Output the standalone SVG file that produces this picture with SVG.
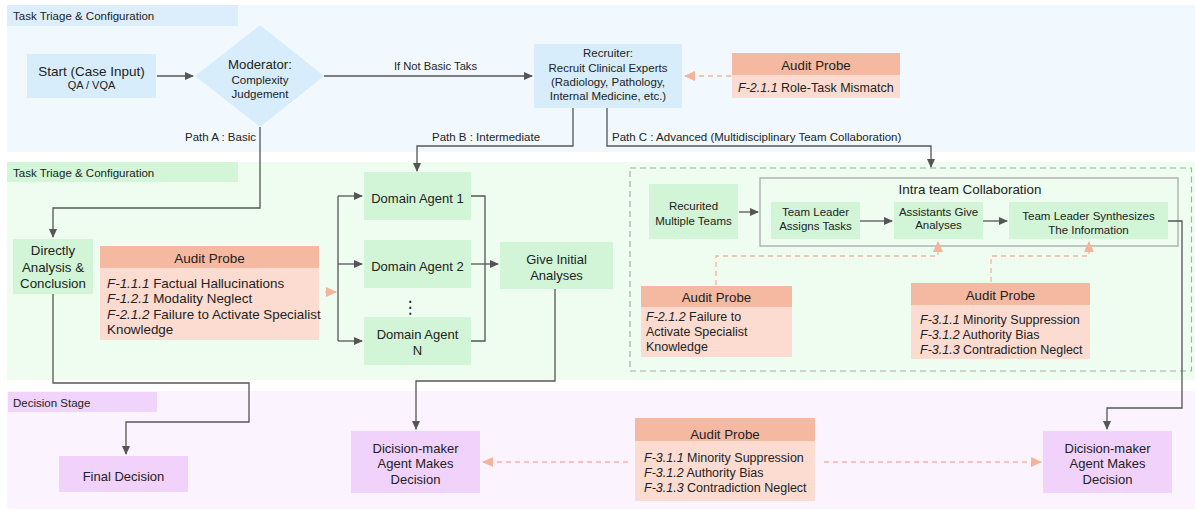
<svg xmlns="http://www.w3.org/2000/svg" width="1195" height="510" viewBox="0 0 1195 510">
<defs>
<marker id="ah" markerUnits="userSpaceOnUse" markerWidth="9" markerHeight="8" refX="8" refY="4" orient="auto"><path d="M0,0 L9,4 L0,8 z" fill="#555"/></marker>
<marker id="ahs" markerUnits="userSpaceOnUse" markerWidth="11" markerHeight="10" refX="10" refY="5" orient="auto"><path d="M0,0 L11,5 L0,10 z" fill="#f4b49c"/></marker>
<style>
text{font-family:"Liberation Sans",Arial,sans-serif;fill:#222;}
.c{text-anchor:middle;}
.band1{fill:#f1f9fe;}
.lab1{fill:#dceefc;}
.n1{fill:#d7edfc;}
.band2{fill:#effdf0;}
.lab2{fill:#d3f6d8;}
.n2{fill:#d2f5d7;}
.band3{fill:#fbf4fe;}
.lab3{fill:#f1d4fb;}
.n3{fill:#f1d2fb;}
.ph{fill:#f5b8a1;}
.pb{fill:#fcdcd1;}
.ln{fill:none;stroke:#555;stroke-width:1.3;}
.ds{fill:none;stroke:#f4b49c;stroke-width:1.3;stroke-dasharray:5,4;}
.t13{font-size:13px;}
.t115{font-size:11.5px;}
.t125{font-size:12.5px;}
.pt{font-size:13.3px;}
i,.it{font-style:italic;}
</style>
</defs>
<g id="bands">
<rect class="band1" x="7" y="5" width="1188" height="147"/>
<rect class="lab1" x="7" y="5" width="231" height="21"/>
<text x="13" y="20" class="t115">Task Triage &amp; Configuration</text>
<rect class="band2" x="7" y="162" width="1188" height="218"/>
<rect class="lab2" x="7" y="162" width="231" height="20"/>
<text x="13" y="176.5" class="t115">Task Triage &amp; Configuration</text>
<rect class="band3" x="7" y="391" width="1188" height="118"/>
<rect class="lab3" x="8" y="392" width="149" height="20"/>
<text x="13" y="406.5" class="t115">Decision Stage</text>
</g>
<g id="containers">
<rect x="630" y="168" width="561.5" height="203" fill="none" stroke="#aaa" stroke-width="1.2" stroke-dasharray="6,4"/>
<rect x="760" y="178" width="418" height="68" fill="none" stroke="#aaa" stroke-width="1.3"/>
<text x="970" y="194" class="c t13" style="font-size:13.4px">Intra team Collaboration</text>
</g>
<g id="connectors">
<path class="ln" d="M157,76 H193" marker-end="url(#ah)"/>
<path class="ln" d="M324,76 H532" marker-end="url(#ah)"/>
<text x="435.5" y="69.5" class="c" style="font-size:11.2px">If Not Basic Taks</text>
<path class="ln" d="M260,127 V208 H53 V237" marker-end="url(#ah)"/>
<text x="256" y="141" class="t115" text-anchor="end">Path A : Basic</text>
<path class="ln" d="M573,108 V146 H417 V171" marker-end="url(#ah)"/>
<text x="432" y="141" class="t115">Path B : Intermediate</text>
<path class="ln" d="M607,108 V146 H931 V167" marker-end="url(#ah)"/>
<text x="612" y="141" class="t115">Path C : Advanced (Multidisciplinary Team Collaboration)</text>
<path class="ds" d="M731,76 H685" marker-end="url(#ahs)"/>
<path class="ln" d="M338,196 V341"/>
<path class="ln" d="M338,196 H362" marker-end="url(#ah)"/>
<path class="ln" d="M338,264 H362" marker-end="url(#ah)"/>
<path class="ln" d="M338,341 H362" marker-end="url(#ah)"/>
<path class="ln" d="M471,196 H485 V341 H471"/>
<path class="ln" d="M471,264 H498" marker-end="url(#ah)"/>
<path class="ds" d="M325,292 H336" style="stroke-dasharray:none" marker-end="url(#ahs)"/>
<path class="ln" d="M53,294 V383 H249 V422 H126 V454" marker-end="url(#ah)"/>
<path class="ln" d="M555,289 V381 H416 V429" marker-end="url(#ah)"/>
<path class="ln" d="M739,212 H758" marker-end="url(#ah)"/>
<path class="ln" d="M860,221 H892" marker-end="url(#ah)"/>
<path class="ln" d="M983,221 H1007" marker-end="url(#ah)"/>
<path class="ln" d="M1168,221 H1182 V408 H1107 V429" marker-end="url(#ah)"/>
<path class="ds" d="M716,285 V256 H938 V242" marker-end="url(#ahs)"/>
<path class="ds" d="M991,282 V256 H1089 V242" marker-end="url(#ahs)"/>
<path class="ds" d="M628,462 H483" marker-end="url(#ahs)"/>
<path class="ds" d="M824,462 H1041" marker-end="url(#ahs)"/>
</g>
<g id="start">
<rect class="n1" x="27" y="54" width="129" height="44"/>
<text x="91.5" y="75.5" class="c" style="font-size:13.5px">Start (Case Input)</text>
<text x="91.5" y="89" class="c" style="font-size:11px">QA / VQA</text>
</g>
<g id="moderator">
<path class="n1" d="M260,25 L324,76 L260,127 L195,76 Z"/>
<text x="260" y="69" class="c" style="font-size:13.2px">Moderator:</text>
<text x="260" y="83.5" class="c t115">Complexity</text>
<text x="260" y="97.5" class="c t115">Judgement</text>
</g>
<g id="recruiter">
<rect class="n1" x="534" y="44" width="148" height="64"/>
<text x="608" y="57" class="c t115">Recruiter:</text>
<text x="608" y="71.5" class="c t115">Recruit Clinical Experts</text>
<text x="608" y="85.5" class="c t115">(Radiology, Pathology,</text>
<text x="608" y="99.5" class="c t115">Internal Medicine, etc.)</text>
</g>
<g id="probe1">
<rect class="ph" x="732" y="53" width="168" height="22"/>
<rect class="pb" x="732" y="75" width="168" height="23"/>
<text x="816" y="69.5" class="c pt">Audit Probe</text>
<text x="738" y="92" class="t125"><tspan class="it">F-2.1.1</tspan> Role-Task Mismatch</text>
</g>
<g id="direct">
<rect class="n2" x="13" y="239" width="80" height="55"/>
<text x="53" y="255" class="c pt">Directly</text>
<text x="53" y="271.5" class="c pt">Analysis &amp;</text>
<text x="53" y="287.5" class="c pt">Conclusion</text>
</g>
<g id="probe2">
<rect class="ph" x="100" y="246" width="219" height="22"/>
<rect class="pb" x="100" y="268" width="219" height="72"/>
<text x="209.5" y="262.5" class="c" style="font-size:13.5px">Audit Probe</text>
<text x="107" y="287.5" style="font-size:13.4px"><tspan class="it">F-1.1.1</tspan> Factual Hallucinations</text>
<text x="107" y="303" style="font-size:13.4px"><tspan class="it">F-1.2.1</tspan> Modality Neglect</text>
<text x="107" y="318.5" style="font-size:13.4px"><tspan class="it">F-2.1.2</tspan> Failure to Activate Specialist</text>
<text x="107" y="333.5" style="font-size:13.4px">Knowledge</text>
</g>
<g id="agent1">
<rect class="n2" x="364" y="172" width="107" height="48"/>
<text x="417.5" y="202.5" class="c t13">Domain Agent 1</text>
</g>
<g id="agent2">
<rect class="n2" x="364" y="240" width="107" height="48"/>
<text x="417.5" y="270.5" class="c t13">Domain Agent 2</text>
</g>
<text x="410" y="313" class="c" style="font-family:'DejaVu Sans',sans-serif;font-size:17px">⋮</text>
<g id="agentN">
<rect class="n2" x="364" y="317" width="107" height="48"/>
<text x="417.5" y="338.5" class="c t13">Domain Agent</text>
<text x="417.5" y="354.5" class="c t13">N</text>
</g>
<g id="initial">
<rect class="n2" x="500" y="242" width="113" height="47"/>
<text x="556.5" y="264.3" class="c t13">Give Initial</text>
<text x="556.5" y="280" class="c t13">Analyses</text>
</g>
<g id="teams">
<rect class="n2" x="649" y="184" width="89" height="55"/>
<text x="693.5" y="210" class="c t115">Recurited</text>
<text x="693.5" y="225" class="c t115">Multiple Teams</text>
</g>
<g id="assign">
<rect class="n2" x="771" y="202" width="89" height="37"/>
<text x="815.5" y="216" class="c t115">Team Leader</text>
<text x="815.5" y="229.5" class="c t115">Assigns Tasks</text>
</g>
<g id="assistants">
<rect class="n2" x="894" y="202" width="89" height="37"/>
<text x="938.5" y="215.5" class="c t115">Assistants Give</text>
<text x="938.5" y="229" class="c t115">Analyses</text>
</g>
<g id="synth">
<rect class="n2" x="1009" y="202" width="159" height="37"/>
<text x="1088.5" y="220" class="c t115">Team Leader Synthesizes</text>
<text x="1088.5" y="234" class="c t115">The Information</text>
</g>
<g id="probe4">
<rect class="ph" x="641" y="286" width="151" height="21"/>
<rect class="pb" x="641" y="307" width="151" height="50"/>
<text x="716.5" y="302" class="c pt">Audit Probe</text>
<text x="646" y="320.5" class="t125"><tspan class="it">F-2.1.2</tspan> Failure to</text>
<text x="646" y="335.5" class="t125">Activate Specialist</text>
<text x="646" y="350.5" class="t125">Knowledge</text>
</g>
<g id="probe5">
<rect class="ph" x="911" y="283" width="179" height="22"/>
<rect class="pb" x="911" y="305" width="179" height="54"/>
<text x="1000.5" y="300" class="c pt">Audit Probe</text>
<text x="920" y="324" class="t125"><tspan class="it">F-3.1.1</tspan> Minority Suppression</text>
<text x="920" y="339" class="t125"><tspan class="it">F-3.1.2</tspan> Authority Bias</text>
<text x="920" y="354" class="t125"><tspan class="it">F-3.1.3</tspan> Contradiction Neglect</text>
</g>
<g id="final">
<rect class="n3" x="59" y="456" width="129" height="36"/>
<text x="123.5" y="480.5" class="c t13">Final Decision</text>
</g>
<g id="decision1">
<rect class="n3" x="351" y="431" width="129" height="62"/>
<text x="415.5" y="452.5" class="c t13">Dicision-maker</text>
<text x="415.5" y="468" class="c t13">Agent Makes</text>
<text x="415.5" y="484" class="c t13">Decision</text>
</g>
<g id="probe3">
<rect class="ph" x="635" y="418" width="180" height="23"/>
<rect class="pb" x="635" y="441" width="180" height="60"/>
<text x="725" y="438.5" class="c pt">Audit Probe</text>
<text x="644" y="461.5" class="t125"><tspan class="it">F-3.1.1</tspan> Minority Suppression</text>
<text x="644" y="476.5" class="t125"><tspan class="it">F-3.1.2</tspan> Authority Bias</text>
<text x="644" y="491.5" class="t125"><tspan class="it">F-3.1.3</tspan> Contradiction Neglect</text>
</g>
<g id="decision2">
<rect class="n3" x="1043" y="431" width="129" height="62"/>
<text x="1107.5" y="452.5" class="c t13">Dicision-maker</text>
<text x="1107.5" y="468" class="c t13">Agent Makes</text>
<text x="1107.5" y="484" class="c t13">Decision</text>
</g>
</svg>
